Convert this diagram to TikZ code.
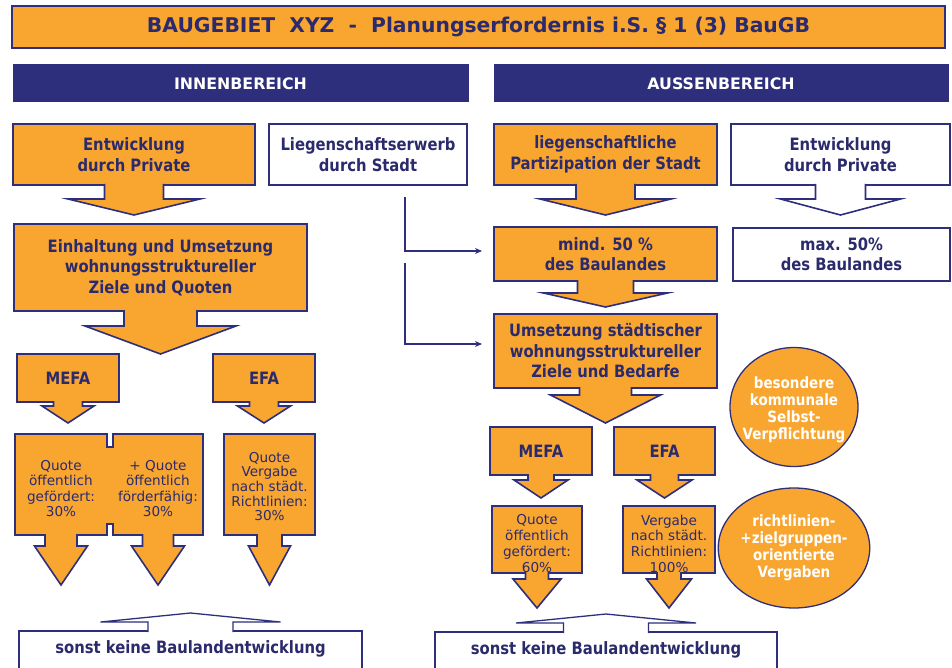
\documentclass[tikz,border=0pt]{standalone}
\usepackage{fontspec}
\setmainfont{DejaVu Sans}
\newfontfamily\cnd{DejaVu Sans}[FakeStretch=0.87]
\usetikzlibrary{arrows.meta,calc,shapes.geometric}
\definecolor{org}{HTML}{F9A630}
\definecolor{navy}{HTML}{2E2F7C}
\definecolor{txt}{HTML}{2A2A6C}
\tikzset{
  x=1pt,y=-1pt,
  box/.style={draw=navy,line width=1.6pt,outer sep=0pt,anchor=north west,inner sep=0pt,
    align=center,text=txt,font=\cnd\bfseries\fontsize{17}{20.5}\selectfont},
  obox/.style={box,fill=org},
  wbox/.style={box,fill=white},
  small/.style={inner sep=0pt,outer sep=0pt,align=center,text=txt,
    font=\fontsize{13.6}{15.3}\selectfont},
  hdr/.style={anchor=north west,draw=navy,fill=navy,line width=1pt,inner sep=0pt,outer sep=0pt,
    text=white,font=\bfseries\fontsize{15.8}{18}\selectfont},
  circ/.style={ellipse,draw=navy,fill=org,line width=1.3pt,inner sep=0pt,align=center,
    text=white,font=\cnd\bfseries\fontsize{15.5}{17}\selectfont},
  barr/.style={draw=navy,line width=1.6pt,line join=miter},
  uarr/.style={draw=navy,fill=white,line width=1.3pt},
  conn/.style={draw=navy,line width=1.2pt,-{Stealth[length=7pt,width=6pt]},shorten >=12pt},
  btxt/.style={inner sep=0pt,text=txt,font=\cnd\bfseries\fontsize{17}{20}\selectfont}
}
% name, stem half width, stem length, wing half width, head length, fill
\newcommand\darrow[6]{\filldraw[barr,fill=#6] (#1.south) ++(-#2,-1) -- ++(0,#3+1) -- ++(#2-#4,0) -- ++(#4,#5) -- ++(#4,-#5) -- ++(#2-#4,0) -- ++(0,-#3-1);}
\newcommand\uparr[1]{\filldraw[uarr] (#1.north) ++(-42.5,1) -- ++(0,-10) -- ++(-47.5,0) -- ++(90,-9) -- ++(90,9) -- ++(-47.5,0) -- ++(0,10);}
\begin{document}
\begin{tikzpicture}
\useasboundingbox[fill=white] (0,0) rectangle (952,668);
\clip (0,0) rectangle (952,668);

% title and headers
\node[obox,minimum width=933,minimum height=42,font=\bfseries\fontsize{20.3}{22}\selectfont] (title) at (12,6)
  {BAUGEBIET\ \ XYZ\ \ -\ \ Planungserfordernis i.S. § 1 (3) BauGB};
\node[hdr,minimum width=455,minimum height=37] (inn) at (13,65) {INNENBEREICH};
\node[hdr,minimum width=454,minimum height=37] (aus) at (494,65) {AUSSENBEREICH};

% ---------- left column ----------
\node[obox,minimum width=242,minimum height=61] (lent) at (13,124) {Entwicklung\\durch Private};
\node[wbox,minimum width=198,minimum height=61] (lieg) at (269,124) {Liegenschaftserwerb\\durch Stadt};
\node[obox,minimum width=293,minimum height=87] (einh) at (14,224) {Einhaltung und Umsetzung\\wohnungsstruktureller\\Ziele und Quoten};
\node[obox,minimum width=102,minimum height=48] (lmefa) at (17,354) {MEFA};
\node[obox,minimum width=102,minimum height=48] (lefa) at (213,354) {EFA};

\filldraw[barr,fill=org] (15,434) -- (107,434) -- (107,447) -- (113,447) -- (113,434) -- (203,434)
  -- (203,535) -- (113,535) -- (113,524) -- (107,524) -- (107,535) -- (15,535) -- cycle;
\node[box,minimum width=92,minimum height=101,draw=none] (lq1) at (15,434) {};
\node[box,minimum width=90,minimum height=101,draw=none] (lq2) at (113,434) {};
\node[obox,minimum width=91,minimum height=101] (lq3) at (224,434) {};
\node[small] (lq1t) at ($(lq1.center)+(0,4)$) {Quote\\öffentlich\\gefördert:\\30\%};
\node[small] (lq2t) at ($(lq2.center)+(0,4)$) {+ Quote\\öffentlich\\förderfähig:\\30\%};
\node[small,font=\fontsize{13.6}{14.6}\selectfont] (lq3t) at ($(lq3.center)+(0,2)$) {Quote\\Vergabe\\nach städt.\\Richtlinien:\\30\%};

\node[wbox,minimum width=343,minimum height=50] (lsonst) at (19,631) {};
\node[btxt] (lsonstt) at ($(lsonst.north)+(0,18)$) {sonst keine Baulandentwicklung};

\darrow{lent}{29.5}{14}{66}{16}{org}
\darrow{einh}{36.5}{15}{75.5}{28}{org}
\darrow{lmefa}{14.5}{4}{26}{17}{org}
\darrow{lefa}{14.5}{4}{26.5}{17}{org}
\darrow{lq1}{16}{11}{26.5}{39}{org}
\darrow{lq2}{15.5}{11}{26.5}{39}{org}
\darrow{lq3}{12.5}{11}{21}{39}{org}
\uparr{lsonst}

% connectors
\coordinate (j1) at (405,197);
\coordinate (j2) at (405,263);

% ---------- right column ----------
\node[obox,minimum width=223,minimum height=61] (part) at (494,124) {liegenschaftliche\\Partizipation der Stadt};
\node[wbox,minimum width=219,minimum height=61] (rent) at (731,124) {Entwicklung\\durch Private};
\node[obox,minimum width=223,minimum height=54] (mind) at (494,227) {mind. 50 \%\\des Baulandes};
\node[wbox,minimum width=217,minimum height=53] (max) at (733,228) {max. 50\%\\des Baulandes};
\node[obox,minimum width=223,minimum height=74] (ums) at (494,314) {Umsetzung städtischer\\wohnungsstruktureller\\Ziele und Bedarfe};
\node[obox,minimum width=102,minimum height=48] (rmefa) at (490,427) {MEFA};
\node[obox,minimum width=101,minimum height=48] (refa) at (614,427) {EFA};
\node[obox,minimum width=90,minimum height=67] (rq1) at (492,506) {};
\node[obox,minimum width=92,minimum height=67] (rq2) at (623,506) {};
\node[small,font=\fontsize{13.6}{15.7}\selectfont] (rq1t) at ($(rq1.center)+(0,4)$) {Quote\\öffentlich\\gefördert:\\60\%};
\node[small,font=\fontsize{13.6}{15.7}\selectfont] (rq2t) at ($(rq2.center)+(0,4)$) {Vergabe\\nach städt.\\Richtlinien:\\100\%};
\node[wbox,minimum width=342,minimum height=50] (rsonst) at (435,632) {};
\node[btxt] (rsonstt) at ($(rsonst.north)+(0,18)$) {sonst keine Baulandentwicklung};

\node[circ,minimum width=128,minimum height=119] (k1) at (794,407) {};
\node[circ,draw=none,fill=none] (k1t) at (794,410) {besondere\\kommunale\\Selbst-\\Verpflichtung};
\node[circ,minimum width=128,minimum height=120] (k2) at (794,548) {richtlinien-\\+zielgruppen-\\orientierte\\Vergaben};

\darrow{part}{29.5}{14}{65.5}{16}{org}
\darrow{rent}{25}{14}{60}{16}{white}
\darrow{mind}{28}{12}{62}{14}{org}
\darrow{ums}{26}{7}{55}{28}{org}
\darrow{rmefa}{13}{5}{27}{18}{org}
\darrow{refa}{14}{5}{27.5}{18}{org}
\darrow{rq1}{11.5}{6}{24}{29}{org}
\darrow{rq2}{12}{6}{22.5}{29}{org}
\uparr{rsonst}

\draw[conn] (j1) |- ($(mind.west)+(0,-3)$);
\draw[conn] (j2) |- ($(ums.west)+(0,-7)$);
\end{tikzpicture}
\end{document}
